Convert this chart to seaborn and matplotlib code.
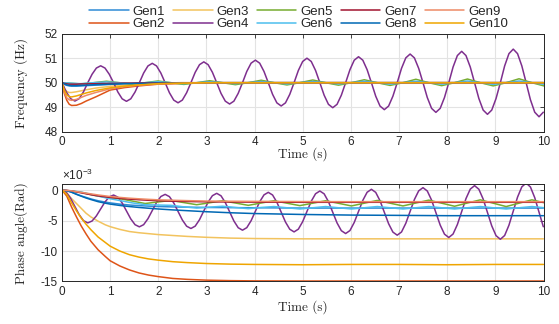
import numpy as np
import pandas as pd
import matplotlib
matplotlib.use("Agg")
import matplotlib.pyplot as plt
import seaborn as sns

# ---------------- data ----------------
gens = ["Gen1", "Gen2", "Gen3", "Gen4", "Gen5", "Gen6", "Gen7", "Gen8", "Gen9", "Gen10"]
colors = ["#2F8CD6", "#DE5418", "#F2C35E", "#7E2F8E", "#77AC30",
          "#4DBEEE", "#A2142F", "#0068B4", "#EE8A66", "#EFA500"]

period = 1.071                       # oscillation period read from the peaks
t_osc = np.arange(113) * period / 12  # sampling grid for the oscillating unit
t_lag = np.r_[0.0, t_osc[3::3] + 0.12]

# time grids for the smooth curves
t_freq = [0, 0.05, 0.1, 0.15, 0.2, 0.3, 0.4, 0.5, 0.7, 1.0, 1.3, 1.6, 2.0, 2.5, 3,
          4, 5, 6, 7, 8, 9, 10]
t_phase = [0, 0.1, 0.2, 0.3, 0.4, 0.5, 0.6, 0.75, 0.9, 1.0, 1.2, 1.4, 1.6, 1.8, 2.0,
           2.3, 2.6, 3, 3.5, 4, 5, 6, 7, 8, 9, 10]

# frequency (Hz)
f_gen1 = [50, 49.93, 49.89, 49.87, 49.86, 49.86, 49.87, 49.88, 49.9, 49.93, 49.95,
          49.97, 49.98, 49.99, 50, 50, 50, 50, 50, 50, 50, 50]
f_gen2 = [50, 49.55, 49.28, 49.12, 49.07, 49.08, 49.15, 49.25, 49.42, 49.7, 49.8,
          49.87, 49.94, 49.97, 49.99, 50, 50, 50, 50, 50, 50, 50]
f_gen3 = [50, 49.75, 49.64, 49.6, 49.6, 49.63, 49.67, 49.71, 49.78, 49.85, 49.9,
          49.93, 49.97, 49.99, 50, 50, 50, 50, 50, 50, 50, 50]
f_gen4 = [50, 49.625, 49.35, 49.25, 49.35, 49.625, 50, 50.345, 50.598, 50.69, 50.598, 50.345,
          50, 49.62, 49.342, 49.24, 49.342, 49.62, 50, 50.395, 50.684, 50.79, 50.684, 50.395,
          50, 49.59, 49.29, 49.18, 49.29, 49.59, 50, 50.425, 50.736, 50.85, 50.736, 50.425,
          50, 49.565, 49.247, 49.13, 49.247, 49.565, 50, 50.46, 50.797, 50.92, 50.797, 50.46,
          50, 49.525, 49.177, 49.05, 49.177, 49.525, 50, 50.5, 50.866, 51.0, 50.866, 50.5,
          50, 49.49, 49.117, 48.98, 49.117, 49.49, 50, 50.53, 50.918, 51.06, 50.918, 50.53,
          50, 49.45, 49.047, 48.9, 49.047, 49.45, 50, 50.585, 51.013, 51.17, 51.013, 50.585,
          50, 49.395, 48.952, 48.79, 48.952, 49.395, 50, 50.64, 51.108, 51.28, 51.108, 50.64,
          50, 49.355, 48.883, 48.71, 48.883, 49.355, 50, 50.685, 51.186, 51.37, 51.186, 50.685,
          50, 49.305, 48.796, 48.61, 48.796]
f_gen5 = [50, 49.95, 50, 50.06, 50, 49.94, 50, 50.07, 50, 49.93, 50, 50.08, 50, 49.92,
          50, 50.1, 50, 49.91, 50, 50.11, 50, 49.9, 50, 50.12, 50, 49.89, 50, 50.14,
          50, 49.88, 50, 50.15, 50, 49.87, 50, 50.16, 50, 49.86]
f_gen6 = [50, 49.96, 50, 50.03, 50, 49.97, 50, 50.04, 50, 49.96, 50, 50.04, 50, 49.96,
          50, 50.05, 50, 49.95, 50, 50.05, 50, 49.95, 50, 50.06, 50, 49.94, 50, 50.06,
          50, 49.94, 50, 50.07, 50, 49.93, 50, 50.07, 50, 49.93]
f_gen7 = [50, 49.97, 49.95, 49.94, 49.94, 49.94, 49.95, 49.95, 49.96, 49.97, 49.98,
          49.99, 49.99, 50, 50, 50, 50, 50, 50, 50, 50, 50]
f_gen8 = [50, 49.95, 49.91, 49.89, 49.88, 49.88, 49.89, 49.9, 49.92, 49.94, 49.96,
          49.97, 49.98, 49.99, 50, 50, 50, 50, 50, 50, 50, 50]
f_gen9 = [50, 49.6, 49.38, 49.3, 49.28, 49.32, 49.4, 49.48, 49.6, 49.75, 49.84,
          49.9, 49.95, 49.98, 50, 50, 50, 50, 50, 50, 50, 50]
f_gen10 = [50, 49.68, 49.5, 49.43, 49.42, 49.46, 49.52, 49.58, 49.68, 49.79, 49.86,
           49.91, 49.96, 49.98, 50, 50, 50, 50, 50, 50, 50, 50]

# phase angle (x 1e-3 rad)
p_gen1 = [0, -0.1, -0.35, -0.65, -0.95, -1.2, -1.45, -1.75, -1.97, -2.1, -2.3, -2.45,
          -2.55, -2.63, -2.7, -2.76, -2.8, -2.85, -2.88, -2.9,
          -2.95, -2.95, -2.95, -2.95, -2.95, -2.95]
p_gen2 = [0, -1.0, -2.8, -4.4, -5.9, -7.2, -8.4, -9.8, -10.9, -11.6, -12.45, -13.1,
          -13.6, -13.95, -14.2, -14.5, -14.65, -14.78, -14.86, -14.9,
          -14.92, -14.92, -14.92, -14.92, -14.92, -14.92]
p_gen3 = [0, -0.5, -1.4, -2.2, -3.0, -3.8, -4.4, -5.1, -5.7, -6.0, -6.45, -6.8,
          -7.0, -7.15, -7.3, -7.45, -7.6, -7.75, -7.88, -7.95,
          -8.0, -8.0, -8.0, -8.0, -8.0, -8.0]
p_gen4 = [0,
          -0.36, -1.345, -2.69, -4.035, -5.02, -5.38,
          -5.074, -4.238, -3.095, -1.953, -1.116, -0.81,
          -1.16, -2.115, -3.42, -4.725, -5.68, -6.03,
          -5.673, -4.698, -3.365, -2.033, -1.057, -0.70,
          -1.075, -2.10, -3.50, -4.90, -5.925, -6.30,
          -5.913, -4.858, -3.415, -1.973, -0.917, -0.53,
          -0.935, -2.043, -3.555, -5.068, -6.175, -6.58,
          -6.164, -5.028, -3.475, -1.923, -0.786, -0.37,
          -0.805, -1.993, -3.615, -5.238, -6.425, -6.86,
          -6.41, -5.183, -3.505, -1.828, -0.6, -0.15,
          -0.618, -1.895, -3.64, -5.385, -6.662, -7.13,
          -6.644, -5.315, -3.50, -1.685, -0.356, 0.13,
          -0.375, -1.753, -3.635, -5.518, -6.895, -7.40,
          -6.877, -5.45, -3.50, -1.55, -0.123, 0.40,
          -0.148, -1.645, -3.69, -5.735, -7.232, -7.78,
          -7.21, -5.653, -3.525, -1.398, 0.16, 0.73,
          0.140, -1.47, -3.67, -5.87, -7.48, -8.07,
          -7.452, -5.765, -3.46, -1.155, 0.532, 1.15,
          0.51, -1.238, -3.625, -6.013]
p_gen5 = [0, -0.35, -0.85, -1.2, -1.4, -1.8, -2.2, -1.95, -1.7, -2.05, -2.4, -2.08,
          -1.75, -2.12, -2.5, -2.12, -1.75, -2.15, -2.55, -2.15, -1.75, -2.17, -2.6,
          -2.15, -1.7, -2.15, -2.6, -2.12, -1.65, -2.15, -2.65, -2.12, -1.6, -2.15,
          -2.7, -2.15, -1.6, -2.1]
p_gen6 = [0, -0.3, -0.8, -1.3, -1.7, -2.1, -2.4, -2.45, -2.5, -2.75, -2.95, -2.8,
          -2.65, -2.85, -3.05, -2.85, -2.7, -2.9, -3.1, -2.9, -2.7, -2.9, -3.1, -2.9,
          -2.7, -2.9, -3.1, -2.9, -2.7, -2.9, -3.1, -2.9, -2.7, -2.9, -3.1, -2.9,
          -2.7, -2.9]
p_gen7 = [0, -0.05, -0.15, -0.3, -0.45, -0.6, -0.75, -0.95, -1.1, -1.2, -1.35, -1.48,
          -1.58, -1.67, -1.75, -1.82, -1.87, -1.92, -1.95, -1.97,
          -2.0, -2.0, -2.0, -2.0, -2.0, -2.0]
p_gen8 = [0, -0.1, -0.35, -0.7, -1.0, -1.3, -1.55, -1.9, -2.15, -2.3, -2.52, -2.7,
          -2.85, -2.98, -3.1, -3.25, -3.38, -3.55, -3.72, -3.85,
          -4.0, -4.1, -4.15, -4.2, -4.2, -4.2]
p_gen9 = [0, -0.05, -0.12, -0.25, -0.37, -0.5, -0.62, -0.8, -0.95, -1.05, -1.2, -1.33,
          -1.43, -1.52, -1.6, -1.67, -1.73, -1.8, -1.83, -1.85,
          -1.88, -1.9, -1.9, -1.9, -1.9, -1.9]
p_gen10 = [0, -0.7, -2.1, -3.4, -4.6, -5.6, -6.5, -7.7, -8.6, -9.2, -10.0, -10.6,
           -11.0, -11.3, -11.5, -11.75, -11.9, -12.05, -12.15, -12.2,
           -12.25, -12.2, -12.2, -12.25, -12.2, -12.2]

freq_series = [(t_freq, f_gen1), (t_freq, f_gen2), (t_freq, f_gen3), (t_osc, f_gen4),
               (t_lag, f_gen5), (t_lag, f_gen6), (t_freq, f_gen7), (t_freq, f_gen8),
               (t_freq, f_gen9), (t_freq, f_gen10)]
phase_series = [(t_phase, p_gen1), (t_phase, p_gen2), (t_phase, p_gen3), (t_osc, p_gen4),
                (t_lag, p_gen5), (t_lag, p_gen6), (t_phase, p_gen7), (t_phase, p_gen8),
                (t_phase, p_gen9), (t_phase, p_gen10)]


def to_long(series):
    frames = [pd.DataFrame({"t": np.asarray(t, float), "v": np.asarray(v, float), "gen": g})
              for g, (t, v) in zip(gens, series)]
    return pd.concat(frames, ignore_index=True)


df_f = to_long(freq_series)
df_p = to_long(phase_series)

# ---------------- style ----------------
sns.set_theme(style="white")
plt.rcParams.update({
    "font.family": ["Liberation Sans", "DejaVu Sans"],
    "axes.unicode_minus": False,
    "mathtext.fontset": "custom",
    "mathtext.rm": "Liberation Sans",
    "mathtext.it": "Liberation Sans:italic",
})

fig = plt.figure(figsize=(5.59, 3.24), dpi=100)
ax1 = fig.add_axes([0.1109, 0.5935, 0.8614, 0.3025])
ax2 = fig.add_axes([0.1109, 0.1312, 0.8614, 0.3009])

palette = dict(zip(gens, colors))
for ax, df in ((ax1, df_f), (ax2, df_p)):
    sns.lineplot(data=df, x="t", y="v", hue="gen", hue_order=gens, palette=palette,
                 estimator=None, sort=False, legend=False, linewidth=1.1, ax=ax)

spine_c = "#262626"
for ax in (ax1, ax2):
    ax.set_xlim(0, 10)
    ax.set_xticks(range(0, 11))
    ax.grid(True, color="#e3e3e3", linewidth=0.8)
    ax.set_axisbelow(True)
    ax.tick_params(direction="in", top=True, right=True, length=3, width=0.6,
                   colors=spine_c, labelsize=8.5, pad=3)
    for s in ax.spines.values():
        s.set_color(spine_c)
        s.set_linewidth(0.7)
    ax.set_xlabel("Time (s)", fontfamily="cmr10", fontsize=9.5, va="top")

ax1.set_ylim(48, 52)
ax1.set_yticks([48, 49, 50, 51, 52])
ax2.set_ylim(-15, 1)
ax2.set_yticks([-15, -10, -5, 0])

ax1.set_ylabel("Frequency (Hz)", fontfamily="cmr10", fontsize=9.5)
ax2.set_ylabel("Phase angle(Rad)", fontfamily="cmr10", fontsize=9.5)
ax1.yaxis.set_label_coords(-0.071, 0.5)
ax2.yaxis.set_label_coords(-0.071, 0.5)
ax1.xaxis.set_label_coords(0.5, -0.155)
ax2.xaxis.set_label_coords(0.5, -0.19)

ax2.text(0.0, 1.015, r"$\times10^{-3}$", transform=ax2.transAxes, fontsize=8.5,
         color=spine_c, ha="left", va="bottom")

handles = ax1.get_lines()[:len(gens)]
fig.legend(handles, gens, loc="upper center", bbox_to_anchor=(0.534, 1.012), ncol=5,
           frameon=False, fontsize=9.5, handlelength=3.0, handletextpad=0.3,
           columnspacing=0.6, labelspacing=0.05, borderpad=0.2)

fig.savefig("out.png", dpi=100)
